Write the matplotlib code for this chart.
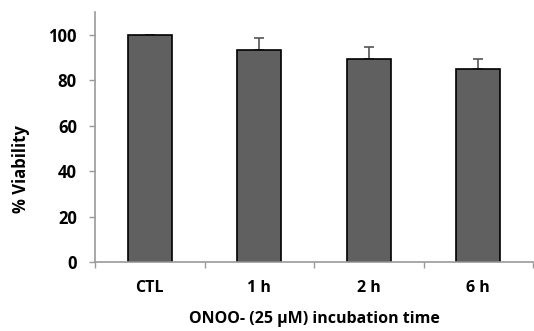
import numpy as np
import matplotlib.pyplot as plt
from matplotlib.ticker import FixedLocator

categories = ["CTL", "1 h", "2 h", "6 h"]
viability = [99.8, 93.4, 89.3, 84.9]
errors = [0.3, 5.3, 5.5, 4.5]
y_ticks = [0, 20, 40, 60, 80, 100]

plt.rcParams["font.family"] = ["Open Sans", "DejaVu Sans"]

fig = plt.figure(figsize=(5.34, 3.31), dpi=100)
ax = fig.add_axes([95 / 534, 1 - 262 / 331, 438 / 534, 250 / 331])

x = np.arange(len(categories))
ax.bar(x, viability, width=0.4, color="#606060", edgecolor="black", linewidth=1.2, zorder=2)
ax.errorbar(x, viability, yerr=[np.zeros(len(errors)), errors], fmt="none",
            ecolor="#555555", elinewidth=1.2, capsize=3.5, capthick=1.2, zorder=1)

ax.set_xlim(-0.5, len(categories) - 0.5)
ax.set_ylim(0, 110)
ax.set_yticks(y_ticks)
ax.set_xticks(x)
ax.set_xticklabels(categories, fontsize=11.5, fontweight="bold")
ax.xaxis.set_minor_locator(FixedLocator(np.arange(-0.5, len(categories), 1.0)))
ax.tick_params(axis="x", which="major", length=0, pad=13)
ax.tick_params(axis="x", which="minor", length=4, color="#999999", width=1)
ax.tick_params(axis="y", length=4, color="#999999", width=1, pad=9, labelsize=12)
for lab in ax.get_yticklabels():
    lab.set_fontweight("bold")

for side in ["top", "right"]:
    ax.spines[side].set_visible(False)
for side in ["left", "bottom"]:
    ax.spines[side].set_color("#999999")
    ax.spines[side].set_linewidth(1.2)

ax.set_ylabel("% Viability", fontsize=12, fontweight="bold")
ax.yaxis.set_label_coords(-0.148, 0.37)
ax.set_xlabel("ONOO- (25 µM) incubation time", fontsize=11.5, fontweight="bold", labelpad=11)

fig.savefig("out.png", dpi=100)
